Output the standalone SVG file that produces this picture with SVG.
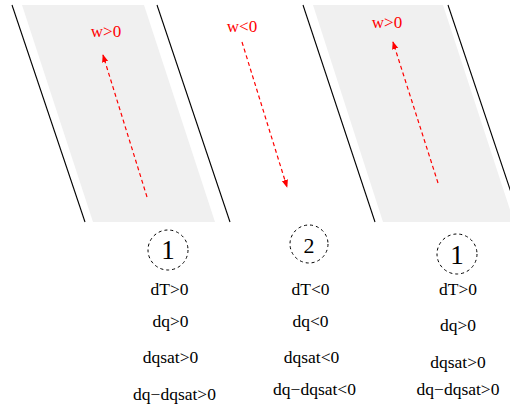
<svg xmlns="http://www.w3.org/2000/svg" width="510" height="411" viewBox="0 0 510 411">
<style>
.band{fill:#f0f0f0;stroke:none}
.wall{stroke:#000;stroke-width:1.1;fill:none}
.flow{stroke:#ff0000;stroke-width:1.2;stroke-dasharray:4 3;fill:none}
.lbl{font-family:'Liberation Serif','DejaVu Serif',serif;font-size:17px;fill:#ff0000;text-anchor:middle}
.txt{font-family:'Liberation Serif','DejaVu Serif',serif;font-size:17.5px;fill:#000;text-anchor:middle}
.ring{fill:none;stroke:#000;stroke-width:1;stroke-dasharray:3 3}
.num{font-family:'Liberation Serif','DejaVu Serif',serif;fill:#000;text-anchor:middle}
</style>
<defs>
<marker id="ah" viewBox="0 0 10 10" refX="9" refY="5" markerWidth="8" markerHeight="8" markerUnits="userSpaceOnUse" orient="auto">
<path d="M0,1 L10,5 L0,9 z" fill="#ff0000"/>
</marker>
</defs>
<g id="band1">
<polygon class="band" points="22,5 144,5 215,222 93,222"/>
<line class="wall" x1="12" y1="5" x2="85" y2="222"/>
<line class="wall" x1="157" y1="5" x2="230" y2="222"/>
</g>
<g id="band3">
<polygon class="band" points="313,5 443,5 514,222 383,222"/>
<line class="wall" x1="303" y1="5" x2="375" y2="222"/>
<line class="wall" x1="448" y1="5" x2="521" y2="222"/>
</g>
<g id="connectors">
<line class="flow" x1="147" y1="197" x2="103" y2="55" marker-end="url(#ah)"/>
<line class="flow" x1="242" y1="42" x2="287" y2="187" marker-end="url(#ah)"/>
<line class="flow" x1="438" y1="183" x2="393" y2="42" marker-end="url(#ah)"/>
</g>
<g id="labels">
<text class="lbl" x="106" y="37" font-family="Liberation Serif, DejaVu Serif, serif">w&gt;0</text>
<text class="lbl" x="242" y="32" font-family="Liberation Serif, DejaVu Serif, serif">w&lt;0</text>
<text class="lbl" x="387" y="28" font-family="Liberation Serif, DejaVu Serif, serif">w&gt;0</text>
</g>
<g id="state1">
<circle class="ring" cx="168" cy="250" r="20"/>
<text class="num" x="168" y="259" font-size="27">1</text>
<text class="txt" x="169.5" y="295">dT&gt;0</text>
<text class="txt" x="170.5" y="327">dq&gt;0</text>
<text class="txt" x="170.5" y="363">dqsat&gt;0</text>
<text class="txt" x="174.5" y="400">dq−dqsat&gt;0</text>
</g>
<g id="state2">
<circle class="ring" cx="309" cy="244" r="19"/>
<text class="num" x="309" y="253" font-size="22">2</text>
<text class="txt" x="310.5" y="295">dT&lt;0</text>
<text class="txt" x="310.5" y="327">dq&lt;0</text>
<text class="txt" x="311.5" y="363">dqsat&lt;0</text>
<text class="txt" x="314.5" y="395">dq−dqsat&lt;0</text>
</g>
<g id="state3">
<circle class="ring" cx="457" cy="254" r="20"/>
<text class="num" x="457" y="264" font-size="27">1</text>
<text class="txt" x="458" y="295">dT&gt;0</text>
<text class="txt" x="458" y="331">dq&gt;0</text>
<text class="txt" x="458" y="368">dqsat&gt;0</text>
<text class="txt" x="458" y="395">dq−dqsat&gt;0</text>
</g>
</svg>
